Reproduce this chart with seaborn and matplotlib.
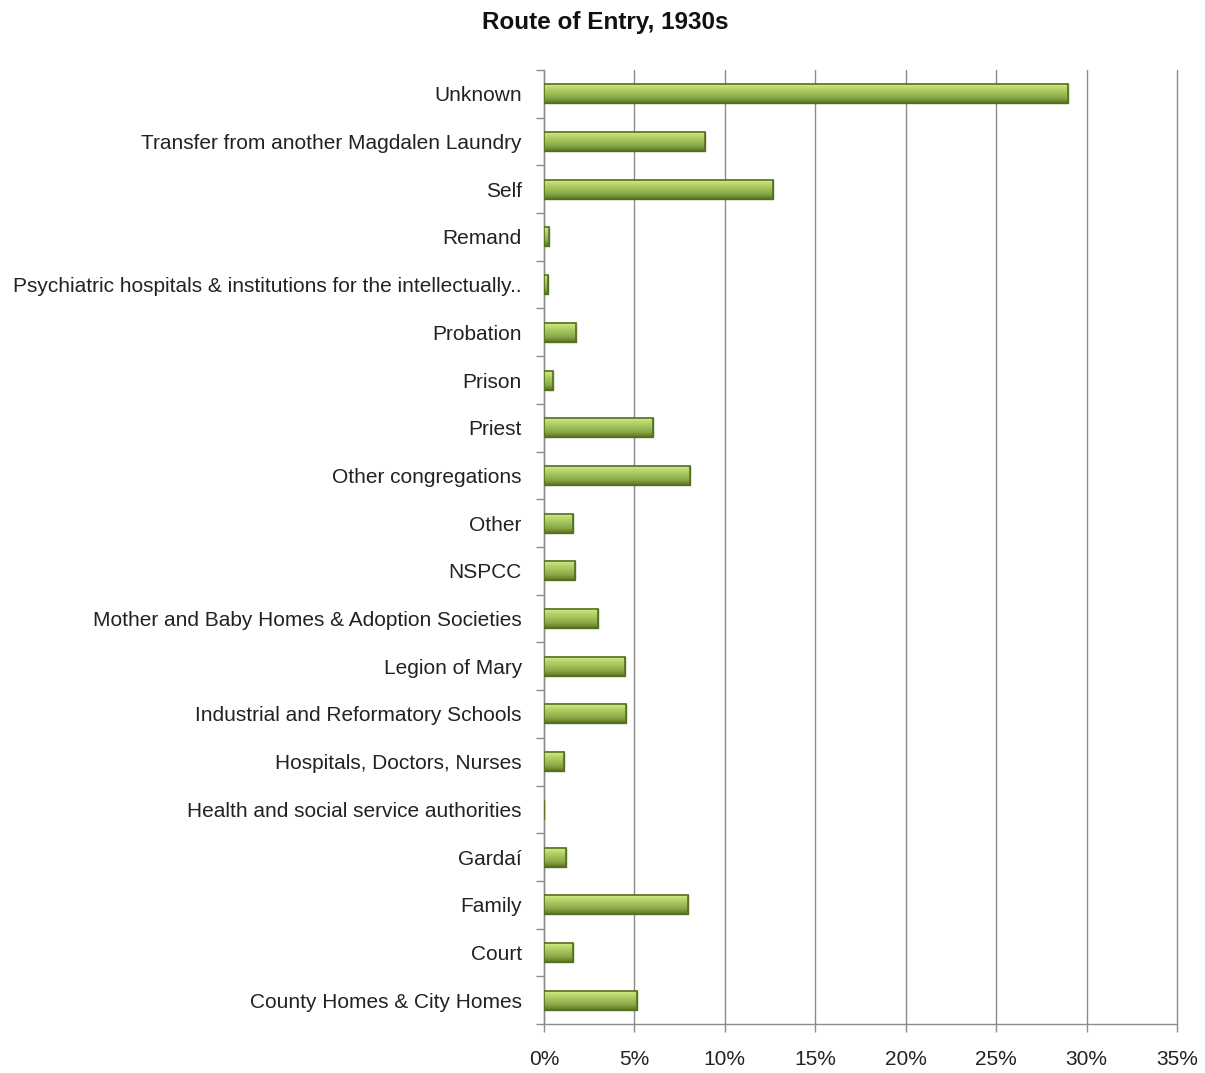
import numpy as np
import matplotlib.pyplot as plt
import seaborn as sns
import pandas as pd
from matplotlib.colors import LinearSegmentedColormap

# route of entry categories, top to bottom as shown
categories = [
    "Unknown",
    "Transfer from another Magdalen Laundry",
    "Self",
    "Remand",
    "Psychiatric hospitals & institutions for the intellectually..",
    "Probation",
    "Prison",
    "Priest",
    "Other congregations",
    "Other",
    "NSPCC",
    "Mother and Baby Homes & Adoption Societies",
    "Legion of Mary",
    "Industrial and Reformatory Schools",
    "Hospitals, Doctors, Nurses",
    "Health and social service authorities",
    "Gardaí",
    "Family",
    "Court",
    "County Homes & City Homes",
]
# share of entries (%)
percent = [29.0, 8.9, 12.65, 0.28, 0.2, 1.77, 0.5, 6.0, 8.07, 1.6,
           1.7, 2.98, 4.47, 4.53, 1.1, 0.0, 1.2, 7.96, 1.6, 5.14]
x_ticks = [0, 5, 10, 15, 20, 25, 30, 35]

df = pd.DataFrame({"Route": categories, "Percent": percent})

sns.set_style("white")
plt.rcParams["font.family"] = ["Liberation Sans", "DejaVu Sans"]

fig = plt.figure(figsize=(12.05, 10.73), dpi=100)
ax = fig.add_axes([544 / 1205, 1 - 1024 / 1073, (1177 - 544) / 1205, (1024 - 70) / 1073])

sns.barplot(data=df, x="Percent", y="Route", color="#9bbb59", width=0.4,
            edgecolor="#5c7424", linewidth=1.0, ax=ax, zorder=3)

# bevelled look: vertical gradient clipped to each bar (light top, dark bottom)
cmap = LinearSegmentedColormap.from_list(
    "bev", ["#d9ef97", "#b9d66a", "#9fc05a", "#88a845", "#5b7624"])
grad = np.linspace(0, 1, 64).reshape(-1, 1)
for p in ax.patches:
    x0, y0 = p.get_x(), p.get_y()
    w, h = p.get_width(), p.get_height()
    if w <= 0:
        continue
    im = ax.imshow(grad, cmap=cmap, aspect="auto", extent=[x0, x0 + w, y0 + h, y0],
                   origin="upper", zorder=3.5, interpolation="bicubic")
    im.set_clip_path(p)
    ax.add_patch(plt.Rectangle((x0, y0), w, h, fill=False, edgecolor="#56701f",
                               linewidth=1.2, zorder=4))

ax.set_xlim(0, 35)
ax.set_ylim(len(categories) - 0.5, -0.5)
ax.set_xticks(x_ticks)
ax.set_xticklabels([f"{t}%" for t in x_ticks], fontsize=15, color="#222222")
ax.tick_params(axis="y", labelsize=15, length=0, pad=16, labelcolor="#222222")
ax.tick_params(axis="x", length=6, width=1, color="#8c8c8c", pad=13, direction="out",
               bottom=True)
ax.set_yticks(np.arange(len(categories) + 1) - 0.5, minor=True)
ax.tick_params(axis="y", which="minor", length=6, width=1, color="#8c8c8c", left=True)
ax.set_xlabel("")
ax.set_ylabel("")

ax.grid(axis="x", color="#8c8c8c", linewidth=1, zorder=0)
for gl in ax.get_xgridlines():
    gl.set_clip_on(False)
ax.set_axisbelow(True)
for s in ["top", "right"]:
    ax.spines[s].set_visible(False)
for s in ["left", "bottom"]:
    ax.spines[s].set_color("#8c8c8c")
    ax.spines[s].set_linewidth(1)

fig.text(0.502, 1 - 22 / 1073, "Route of Entry, 1930s", ha="center", va="center",
         fontsize=17.5, fontweight="bold", color="#111111")

fig.savefig("out.png", dpi=100)
